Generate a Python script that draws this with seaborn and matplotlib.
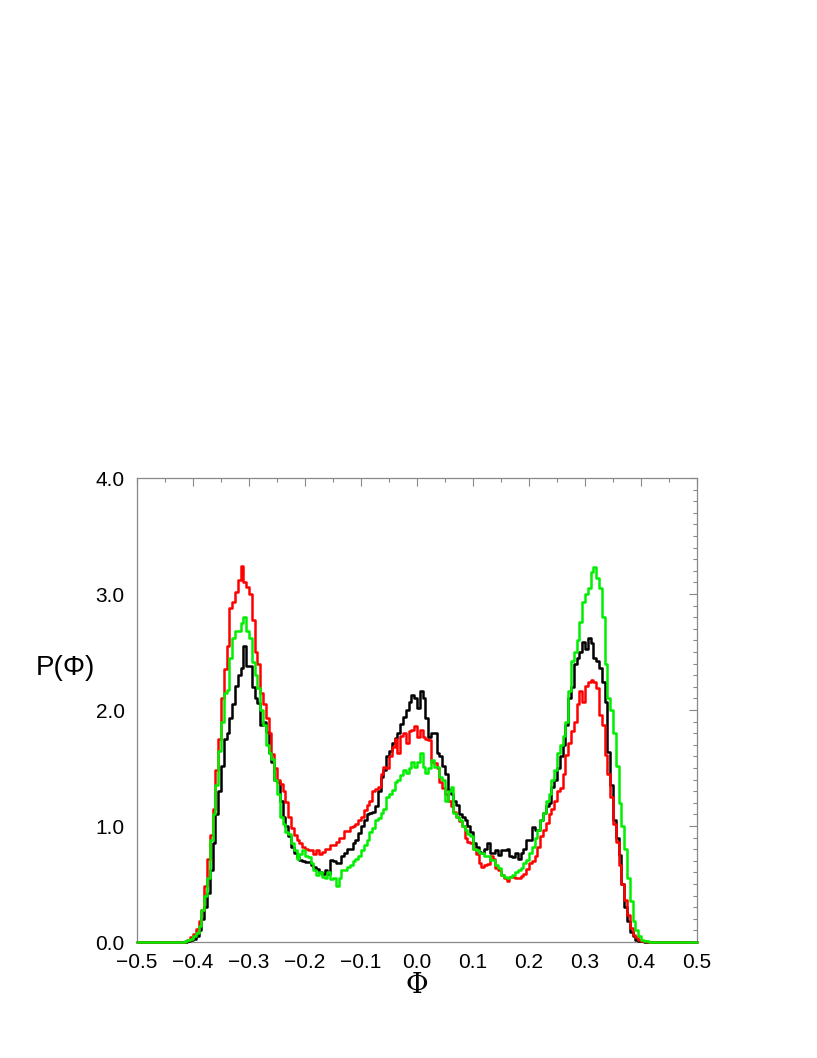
import numpy as np
import pandas as pd
import matplotlib
matplotlib.use('Agg')
import matplotlib.pyplot as plt
from matplotlib.ticker import MultipleLocator, FuncFormatter
import seaborn as sns

# Histogram bins: width 0.005 over [-0.5, 0.5]; nonzero values start at -0.42
bin_width = 0.005
first_bin = -0.42

black = [
    0.00, 0.00, 0.01, 0.02, 0.03, 0.05, 0.10, 0.20, 0.30, 0.42,
    0.62, 0.85, 1.10, 1.30, 1.52, 1.75, 1.80, 1.93, 2.05, 2.21,
    2.30, 2.36, 2.55, 2.38, 2.38, 2.20, 2.10, 2.06, 1.87, 1.90,
    1.81, 1.63, 1.55, 1.40, 1.38, 1.22, 1.08, 1.00, 0.91, 0.82,
    0.77, 0.73, 0.71, 0.70, 0.69, 0.69, 0.66, 0.65, 0.63, 0.60,
    0.59, 0.62, 0.59, 0.71, 0.70, 0.68, 0.68, 0.74, 0.77, 0.80,
    0.80, 0.85, 0.88, 0.94, 1.00, 1.05, 1.10, 1.11, 1.12, 1.17,
    1.30, 1.42, 1.48, 1.60, 1.65, 1.72, 1.76, 1.80, 1.88, 1.94,
    2.00, 2.07, 2.13, 2.10, 2.02, 2.16, 2.10, 1.93, 1.77, 1.80,
    1.80, 1.63, 1.60, 1.52, 1.45, 1.31, 1.28, 1.22, 1.18, 1.10,
    1.08, 1.05, 1.00, 0.95, 0.85, 0.82, 0.78, 0.77, 0.80, 0.85,
    0.77, 0.77, 0.79, 0.75, 0.79, 0.79, 0.80, 0.74, 0.73, 0.77,
    0.72, 0.77, 0.80, 0.88, 0.88, 0.99, 0.97, 0.97, 1.05, 1.11,
    1.17, 1.20, 1.34, 1.40, 1.50, 1.60, 1.70, 1.87, 2.10, 2.20,
    2.40, 2.45, 2.50, 2.59, 2.53, 2.62, 2.58, 2.45, 2.42, 2.36,
    2.24, 2.07, 1.64, 1.35, 1.05, 0.90, 0.75, 0.50, 0.30, 0.18,
    0.09, 0.05, 0.02, 0.01, 0.01, 0.00, 0.00, 0.00,
]

red = [
    0.00, 0.01, 0.02, 0.04, 0.07, 0.11, 0.18, 0.28, 0.48, 0.72,
    0.92, 1.15, 1.48, 1.75, 2.10, 2.35, 2.55, 2.88, 2.93, 3.02,
    3.12, 3.24, 3.10, 3.06, 3.00, 2.78, 2.50, 2.40, 2.15, 2.05,
    1.93, 1.80, 1.62, 1.50, 1.40, 1.36, 1.30, 1.21, 1.08, 0.98,
    0.92, 0.88, 0.85, 0.82, 0.80, 0.79, 0.79, 0.76, 0.79, 0.76,
    0.78, 0.80, 0.80, 0.84, 0.84, 0.86, 0.90, 0.90, 0.96, 0.96,
    0.99, 1.00, 1.02, 1.05, 1.08, 1.14, 1.18, 1.22, 1.30, 1.32,
    1.34, 1.45, 1.51, 1.50, 1.60, 1.68, 1.75, 1.63, 1.78, 1.80,
    1.72, 1.82, 1.83, 1.86, 1.77, 1.83, 1.77, 1.75, 1.74, 1.55,
    1.54, 1.50, 1.38, 1.33, 1.28, 1.22, 1.17, 1.12, 1.08, 1.04,
    1.00, 0.90, 0.86, 0.85, 0.80, 0.76, 0.68, 0.65, 0.66, 0.67,
    0.74, 0.72, 0.64, 0.62, 0.58, 0.55, 0.53, 0.56, 0.56, 0.55,
    0.55, 0.57, 0.59, 0.63, 0.68, 0.70, 0.74, 0.82, 0.91, 0.97,
    1.03, 1.10, 1.15, 1.22, 1.30, 1.33, 1.45, 1.61, 1.72, 1.82,
    1.90, 2.05, 2.16, 2.07, 2.21, 2.24, 2.26, 2.24, 2.19, 1.96,
    1.87, 1.61, 1.45, 1.25, 1.02, 0.86, 0.66, 0.50, 0.36, 0.23,
    0.12, 0.06, 0.04, 0.02, 0.01, 0.01, 0.00, 0.00,
]

green = [
    0.00, 0.01, 0.02, 0.03, 0.05, 0.08, 0.14, 0.28, 0.40, 0.55,
    0.88, 1.10, 1.35, 1.65, 1.90, 2.15, 2.17, 2.45, 2.62, 2.68,
    2.68, 2.75, 2.80, 2.68, 2.62, 2.41, 2.30, 2.19, 2.00, 1.87,
    1.70, 1.63, 1.58, 1.40, 1.28, 1.08, 1.02, 0.95, 0.93, 0.85,
    0.79, 0.72, 0.76, 0.79, 0.74, 0.73, 0.68, 0.62, 0.58, 0.60,
    0.56, 0.55, 0.60, 0.54, 0.55, 0.48, 0.55, 0.62, 0.62, 0.65,
    0.66, 0.70, 0.72, 0.74, 0.79, 0.84, 0.88, 0.95, 0.98, 1.05,
    1.07, 1.11, 1.15, 1.25, 1.28, 1.31, 1.38, 1.40, 1.44, 1.48,
    1.46, 1.50, 1.55, 1.51, 1.55, 1.63, 1.51, 1.46, 1.50, 1.57,
    1.51, 1.51, 1.42, 1.40, 1.22, 1.30, 1.34, 1.11, 1.08, 1.05,
    1.00, 0.97, 0.93, 0.91, 0.80, 0.79, 0.77, 0.77, 0.74, 0.74,
    0.71, 0.71, 0.66, 0.64, 0.58, 0.56, 0.55, 0.56, 0.58, 0.60,
    0.62, 0.64, 0.68, 0.71, 0.77, 0.82, 0.90, 0.97, 1.05, 1.11,
    1.22, 1.28, 1.40, 1.48, 1.63, 1.70, 1.78, 1.90, 2.16, 2.42,
    2.50, 2.60, 2.76, 2.93, 3.00, 3.05, 3.19, 3.23, 3.14, 3.05,
    2.80, 2.40, 2.10, 2.00, 1.80, 1.52, 1.20, 1.00, 0.80, 0.55,
    0.35, 0.18, 0.10, 0.05, 0.02, 0.01, 0.01, 0.00,
]

series = [('black', black, 'black'), ('red', red, '#ff0000'), ('green', green, '#00ee00')]

# full edge set from -0.5 to 0.5, zero outside the measured range
edges = np.round(np.arange(-0.5, 0.5 + bin_width / 2, bin_width), 4)
all_centers = edges[:-1] + bin_width / 2

rows = []
for name, vals, _ in series:
    centers = first_bin + bin_width * (np.arange(len(vals)) + 0.5)
    full = np.zeros(len(all_centers))
    idx = np.round((centers + 0.5) / bin_width - 0.5).astype(int)
    full[idx] = vals
    rows.append(pd.DataFrame({'phi': all_centers, 'p': full, 'run': name}))
df = pd.concat(rows, ignore_index=True)

sns.set_style('white')
plt.rcParams['font.family'] = ['Liberation Sans', 'DejaVu Sans']

fig = plt.figure(figsize=(8.17, 10.58), dpi=100)
ax = fig.add_axes([0.1677, 0.1096, 0.6854, 0.4386])

for name, _, color in series:
    sub = df[df['run'] == name]
    sns.histplot(data=sub, x='phi', weights='p', bins=edges.tolist(), element='step',
                 fill=False, color=color, linewidth=1.8, ax=ax)

# let the zero-level part of the outlines sit on top of the bottom spine
for art in ax.lines + ax.patches + ax.collections:
    art.set_clip_on(False)
    art.set_zorder(3)

ax.set_xlim(-0.5, 0.5)
ax.set_ylim(0, 4.0)
ax.xaxis.set_major_locator(MultipleLocator(0.1))
ax.xaxis.set_minor_locator(MultipleLocator(0.05))
ax.yaxis.set_major_locator(MultipleLocator(1.0))
ax.yaxis.set_minor_locator(MultipleLocator(0.1))
fmt = FuncFormatter(lambda v, pos: f'{v:.1f}'.replace('-', '\u2212') if abs(v) > 1e-9 else '0.0')
ax.xaxis.set_major_formatter(fmt)
ax.yaxis.set_major_formatter(fmt)
ax.tick_params(which='both', direction='in', top=True, right=True,
               color='#888888', labelcolor='black', labelsize=15, width=0.8)
ax.tick_params(which='major', length=6)
ax.tick_params(which='minor', length=3)
ax.tick_params(axis='x', which='major', pad=8)
ax.tick_params(axis='y', which='major', pad=9)
for sp in ax.spines.values():
    sp.set_color('#888888')
    sp.set_linewidth(0.9)

ax.set_xlabel('\u03a6', fontsize=20, family='DejaVu Serif', labelpad=0, color='black')
ax.set_ylabel('P(\u03a6)', fontsize=20, rotation=0, va='center', color='black')
ax.yaxis.set_label_coords(-0.127, 0.59)

fig.savefig('out.png', dpi=100)
